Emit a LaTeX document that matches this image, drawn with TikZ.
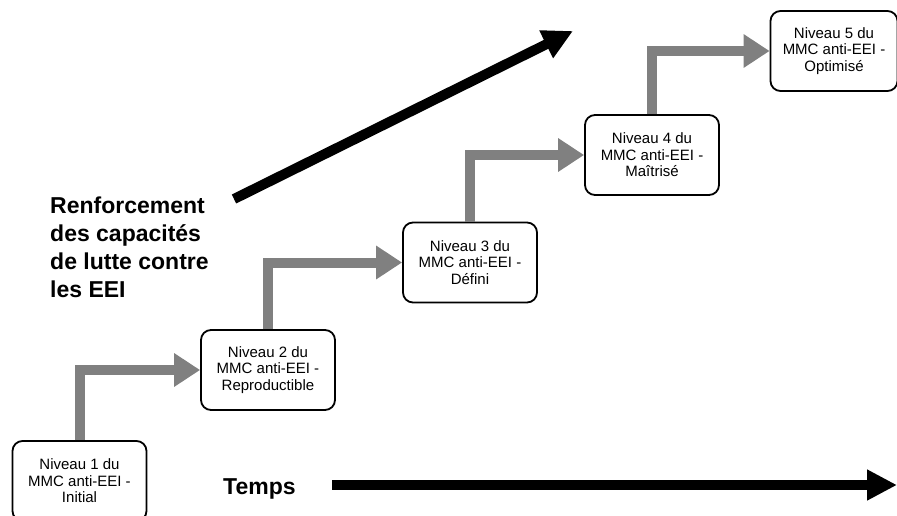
\documentclass[tikz,border=0pt]{standalone}
\usepackage{fontspec}
\setmainfont{Liberation Sans}
\usetikzlibrary{arrows.meta}
\definecolor{stepgray}{RGB}{128,128,128}
\tikzset{
  levelbox/.style={draw=black, line width=1.8pt, rounded corners=10pt, fill=white,
    minimum width=134pt, minimum height=80pt, align=center, inner sep=2pt,
    font=\fontsize{15}{16.5}\selectfont},
  grayarrow/.style={draw=stepgray, line width=10pt,
    -{Triangle[width=32pt,length=26pt]}},
  blackarrow/.style={draw=black, line width=10pt,
    -{Triangle[width=29pt,length=30pt]}},
  bigbold/.style={font=\fontsize{23}{28}\selectfont\bfseries, align=left, inner sep=0pt},
}
\begin{document}
\begin{tikzpicture}[x=1pt,y=-1pt]
\useasboundingbox (0,0) rectangle (897,515);
\clip (0,0) rectangle (897,515);
\node[levelbox] (b1) at (79.5,481) {Niveau 1 du\\MMC anti-EEI -\\Initial};
\node[levelbox] (b2) at (268,370) {Niveau 2 du\\MMC anti-EEI -\\Reproductible};
\node[levelbox] (b3) at (470,262.5) {Niveau 3 du\\MMC anti-EEI -\\Défini};
\node[levelbox] (b4) at (652,155) {Niveau 4 du\\MMC anti-EEI -\\Maîtrisé};
\node[levelbox, minimum width=127pt] (b5) at (834,51) {Niveau 5 du\\MMC anti-EEI -\\Optimisé};
\draw[grayarrow] (b1.north) |- (b2.west);
\draw[grayarrow] (b2.north) |- (b3.west);
\draw[grayarrow] (b3.north) |- (b4.west);
\draw[grayarrow] (b4.north) |- (b5.west);
\node[bigbold, anchor=base west] (renf) at (50,297)
  {Renforcement\\des capacités\\de lutte contre\\les EEI};
\coordinate (diagstart) at (234,199);
\coordinate (diagend) at (573,31);
\draw[blackarrow] (diagstart) -- (diagend);
\node[font=\fontsize{23}{27}\selectfont\bfseries, anchor=base west, inner sep=0pt] (temps) at (223,494) {Temps};
\coordinate (tstart) at (332,485);
\coordinate (tend) at (897,485);
\draw[blackarrow] (tstart) -- (tend);
\end{tikzpicture}
\end{document}
